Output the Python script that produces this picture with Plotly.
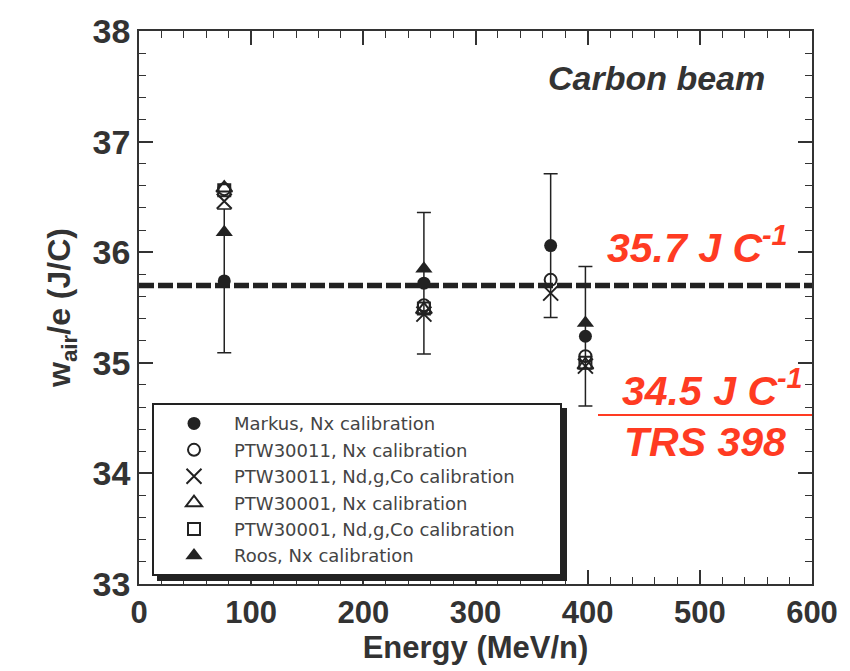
import plotly.graph_objects as go

# ---- data ----
energies = [76, 254, 367, 398]
markus = [35.74, 35.72, 36.06, 35.24]
markus_err = [0.65, 0.64, 0.65, 0.63]
ptw30011_nx = [36.57, 35.52, 35.75, 35.06]
ptw30011_nd = [36.46, 35.44, 35.63, 34.97]
ptw30001_nx = [36.58, 35.48, None, 34.98]
ptw30001_nd = [36.56, 35.49, None, 35.00]
roos = [36.18, 35.85, None, 35.36]
wair_ref = 35.7

series_names = [
    "Markus, Nx calibration",
    "PTW30011, Nx calibration",
    "PTW30011, Nd,g,Co calibration",
    "PTW30001, Nx calibration",
    "PTW30001, Nd,g,Co calibration",
    "Roos, Nx calibration",
]
x_ticks = [0, 100, 200, 300, 400, 500, 600]
y_ticks = [33, 34, 35, 36, 37, 38]

W, H = 850, 671
L, R, T, B = 139, 38, 15, 87


def px(x):
    return (x - L) / (W - L - R)


def py(y):
    return (H - B - y) / (H - T - B)


INK = "#222222"
AX = "#333333"
RED = "#ff3b22"

fig = go.Figure()

# reference dashed line
fig.add_trace(go.Scatter(x=[0, 600], y=[wair_ref, wair_ref], mode="lines",
                         line=dict(color=INK, width=5.5, dash="15px,4px"),
                         showlegend=False, hoverinfo="skip"))

specs = [
    (markus, "circle", 13, 0),
    (ptw30011_nx, "circle-open", 12, 2),
    (ptw30011_nd, "x-thin-open", 15, 2),
    (ptw30001_nx, "triangle-up-open", 14, 2),
    (ptw30001_nd, "square-open", 12, 2),
    (roos, "triangle-up", 15, 0),
]
pad = "\u00a0" * 7
for i, (vals, sym, sz, lw) in enumerate(specs):
    kw = {}
    if i == 0:
        kw["error_y"] = dict(type="data", array=markus_err, color=INK,
                             thickness=1.5, width=7)
    name = series_names[i] + (pad if i == 2 else "")
    fig.add_trace(go.Scatter(
        x=energies, y=vals, mode="markers", name=name,
        marker=dict(symbol=sym, size=sz, color=INK,
                    line=dict(color=INK, width=lw)),
        **kw))

axis_common = dict(showline=True, linecolor=AX, linewidth=1.5,
                   mirror="ticks", ticks="inside", ticklen=14, tickwidth=1.5,
                   tickcolor=AX, showgrid=False, zeroline=False,
                   ticklabeloverflow="allow")

fig.update_xaxes(range=[0, 600], tickvals=x_ticks, **axis_common,
                 minor=dict(dtick=20, ticks="inside", ticklen=7, tickwidth=1.2,
                            tickcolor=AX),
                 tickfont=dict(family="Liberation Sans", size=31,
                               color=AX, weight="bold"),
                 title=dict(text="Energy (MeV/n)", standoff=6,
                            font=dict(family="Liberation Sans", size=31,
                                      color=AX, weight="bold")))
fig.update_yaxes(range=[33, 38], tickvals=y_ticks, **axis_common,
                 minor=dict(dtick=0.2, ticks="inside", ticklen=7, tickwidth=1.2,
                            tickcolor=AX),
                 tickfont=dict(family="Liberation Sans", size=34,
                               color=AX, weight="bold"),
                 title=dict(text="w<sub>air</sub>/e (J/C)", standoff=12,
                            font=dict(family="Liberation Sans", size=32,
                                      color=AX, weight="bold")))

# legend shadow
fig.add_shape(type="rect", xref="paper", yref="paper",
              x0=px(157), x1=px(567), y0=py(581), y1=py(403),
              fillcolor=INK, line=dict(width=0), layer="above")

# red separator line
fig.add_shape(type="line", xref="paper", yref="paper",
              x0=px(598), x1=px(812), y0=py(410), y1=py(410),
              line=dict(color=RED, width=2))

ann_font = dict(family="Liberation Sans", size=41, color=RED,
                weight="bold", style="italic")
for text, cx, cy in [("35.7 J C<sup>-1</sup>", 697, 235),
                     ("34.5 J C<sup>-1</sup>", 712, 382),
                     ("TRS 398", 705, 438)]:
    fig.add_annotation(xref="paper", yref="paper", x=px(cx), y=py(cy),
                       xanchor="center", yanchor="middle", text=text,
                       showarrow=False, font=ann_font)
fig.add_annotation(xref="paper", yref="paper", x=px(656), y=py(63),
                   xanchor="center", yanchor="middle",
                   text="Carbon beam", showarrow=False,
                   font=dict(family="Liberation Sans", size=34, color=AX,
                             weight="bold", style="italic"))

fig.update_layout(
    width=W, height=H,
    margin=dict(l=L, r=R, t=T, b=B),
    paper_bgcolor="white", plot_bgcolor="white",
    legend=dict(x=px(152), y=py(398), xanchor="left", yanchor="top",
                bgcolor="white", bordercolor=INK, borderwidth=2,
                itemwidth=70, tracegroupgap=0,
                font=dict(family="DejaVu Sans", size=18, color="#444444")),
)

fig.write_html("out.html")
